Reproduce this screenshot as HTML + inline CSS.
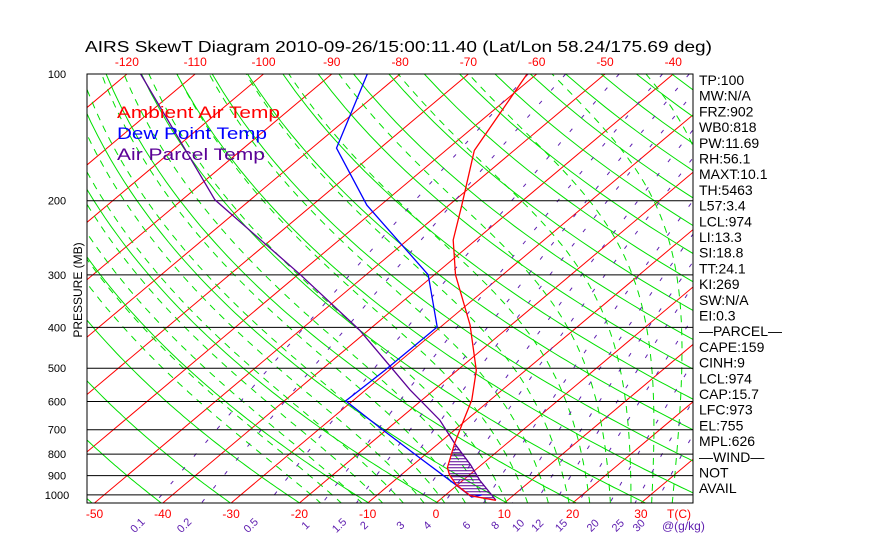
<!DOCTYPE html>
<html><head><meta charset="utf-8">
<style>
body{margin:0;background:#fff;width:870px;height:560px;overflow:hidden}
svg{display:block;font-family:"Liberation Sans",sans-serif}
</style></head>
<body>
<svg id="c" width="870" height="560" viewBox="0 0 870 560">
<text x="85" y="52" font-size="16" fill="#000" textLength="627" lengthAdjust="spacingAndGlyphs">AIRS SkewT Diagram 2010-09-26/15:00:11.40 (Lat/Lon 58.24/175.69 deg)</text>
<text x="0" y="0" transform="translate(82,290) rotate(-90)" text-anchor="middle" font-size="12">PRESSURE (MB)</text>
<defs><clipPath id="pc"><rect x="87" y="74" width="606" height="429"/></clipPath></defs>
<g id="grid" clip-path="url(#pc)"></g>
<g id="prof" clip-path="url(#pc)"></g>
<rect x="87" y="74" width="606" height="429" fill="none" stroke="#000" stroke-width="1"/>
<g id="labels"></g>
<g font-size="17">
<text x="117" y="118" fill="#ff0000" textLength="163" lengthAdjust="spacingAndGlyphs">Ambient Air Temp</text>
<text x="117" y="139" fill="#0000ff" textLength="150" lengthAdjust="spacingAndGlyphs">Dew Point Temp</text>
<text x="117" y="160" fill="#5a0096" textLength="148" lengthAdjust="spacingAndGlyphs">Air Parcel Temp</text>
</g>
<g id="side" font-size="14"></g>
</svg>
<script>
const pressureLevels=[100,200,300,400,500,600,700,800,900,1000];
const topTempTicks=[-120,-110,-100,-90,-80,-70,-60,-50,-40];
const bottomTempTicks=[-50,-40,-30,-20,-10,0,10,20,30];
const mixRatios=[0.1,0.2,0.5,1,1.5,2,3,4,6,8,10,12,15,20,25,30];
const mixLabels=["0.1","0.2","0.5","1","1.5","2","3","4","6","8","10","12","15","20","25","30"];
const tempP=[100,152,205,248,300,395,506,595,664,753,861,897,948,1005,1030];
const tempT=[-61.4,-55.8,-48.1,-43.3,-36.9,-26.0,-17.2,-12.7,-10.4,-7.7,-4.5,-2.9,-0.1,3.8,8.3];
const dewP=[100,150,205,300,399,506,598,701,817,943,1012,1000];
const dewT=[-84.8,-76.4,-62.0,-40.9,-30.5,-30.6,-31.0,-20.5,-10.2,-0.5,4.2,5.3];
const parcelP=[100,199,300,406,563,664,760,848,922,990,1030];
const parcelT=[-118,-85.2,-59.6,-41.3,-23.5,-13.9,-7.3,-1.6,2.4,6.2,8.3];
const sideText=["TP:100","MW:N/A","FRZ:902","WB0:818","PW:11.69","RH:56.1","MAXT:10.1","TH:5463","L57:3.4","LCL:974","LI:13.3","SI:18.8","TT:24.1","KI:269","SW:N/A","EI:0.3","\u2014PARCEL\u2014","CAPE:159","CINH:9","LCL:974","CAP:15.7","LFC:973","EL:755","MPL:626","\u2014WIND\u2014"," NOT","AVAIL"];

const NS="http://www.w3.org/2000/svg";
const Y0=74,K=182.8,XB=436,SC=6.83,SK=1.19,YB=503;
function yP(p){return Y0+K*Math.log(p/100);}
function xT(T,y){return XB+SC*T+(YB-y)*SK;}
function mk(tag,attrs,parent){const e=document.createElementNS(NS,tag);for(const k in attrs)e.setAttribute(k,attrs[k]);parent.appendChild(e);return e;}
const grid=document.getElementById('grid'),prof=document.getElementById('prof'),lab=document.getElementById('labels'),side=document.getElementById('side');
const PS=[];for(let p=100;p<=1060;p+=10)PS.push(p);
function pathPT(arrP,arrT){return arrP.map((p,i)=>{const y=yP(p);return (i?'L':'M')+xT(arrT[i],y).toFixed(1)+' '+y.toFixed(1);}).join(' ');}
for(let T=-160;T<=50;T+=10){
  const e=mk('line',{x1:xT(T,YB),y1:YB,x2:xT(T,Y0),y2:Y0,stroke:'#ff0000','stroke-width':1},grid);
  
  
}
for(let th=180;th<=520;th+=10){
  const T=PS.map(p=>th*Math.pow(p/1000,0.286)-273.15);
  const e=mk('path',{d:pathPT(PS,T),fill:'none',stroke:'#00e000','stroke-width':1},grid);
  
  
}
function es(T){return 6.112*Math.exp(17.67*T/(T+243.5));}
for(let T0=-16;T0<=40;T0+=3){
  let T=T0+273.15;const Tarr=[],Parr=[];
  for(let p=1060;p>=100;p-=5){
    if(p<=1050){Parr.push(p);Tarr.push(T-273.15);}
    const e=es(T-273.15),rs=0.622*e/(p-e),Lv=2.5e6,Rd=287,cp=1004;
    const dTdp=(Rd*T+Lv*rs)/(p*(cp+Lv*Lv*rs*0.622/(Rd*T*T)));
    T-=dTdp*5;
  }
  const e=mk('path',{d:pathPT(Parr,Tarr),fill:'none',stroke:'#00e000','stroke-width':1,'stroke-dasharray':'7,6'},grid);
  
  
}
function tW(w,p){const e=w*p/(622+w);const l=Math.log(e/6.112);return 243.5*l/(17.67-l);}
mixRatios.forEach(w=>{
  const T=PS.map(p=>tW(w,p));
  const e=mk('path',{d:pathPT(PS,T),fill:'none',stroke:'#6020b0','stroke-width':1,'stroke-dasharray':'4,14'},grid);
  
  
});
pressureLevels.forEach(p=>{
  const y=yP(p);
  const l=mk('line',{x1:87,y1:y,x2:693,y2:y,stroke:'#000','stroke-width':1},grid);
  
  
  const t=mk('text',{x:57,y:y+4,'font-size':11,'text-anchor':'middle'},lab);t.textContent=p;
  
  
});
topTempTicks.forEach(T=>{
  const t=mk('text',{x:xT(T,Y0),y:66,'font-size':12,'text-anchor':'middle',fill:'#ff0000'},lab);t.textContent=T;
  
  
});
bottomTempTicks.forEach(T=>{
  const t=mk('text',{x:xT(T,YB),y:518,'font-size':12,'text-anchor':'middle',fill:'#ff0000'},lab);t.textContent=T;
  
  
});
{const t=mk('text',{x:667,y:518,'font-size':12,fill:'#ff0000'},lab);t.textContent='T(C)';

}
{const t=mk('text',{x:662,y:530,'font-size':12,fill:'#6020b0'},lab);t.textContent='@(g/kg)';

}
mixRatios.forEach((w,i)=>{
  const x=xT(tW(w,1050),YB)-15;
  const t=mk('text',{x:0,y:0,'font-size':11,fill:'#6020b0','text-anchor':'middle',transform:`translate(${x.toFixed(1)},528) rotate(-45)`},lab);t.textContent=mixLabels[i];
  
  
});
function interpX(arrP,arrT,y){for(let i=0;i<arrP.length-1;i++){const y1=yP(arrP[i]),y2=yP(arrP[i+1]);if(y>=Math.min(y1,y2)&&y<=Math.max(y1,y2)){const f=(y-y1)/(y2-y1||1);return xT(arrT[i]+f*(arrT[i+1]-arrT[i]),y);}}return null;}
for(let y=yP(760)+2;y<yP(1025);y+=3){
  const a=interpX(tempP,tempT,y),b=interpX(parcelP,parcelT,y);
  if(a!=null&&b!=null&&b>a){const l=mk('line',{x1:a,y1:y,x2:b,y2:y,stroke:'#5a0096','stroke-width':1},prof);
  
  }
}
[[parcelP,parcelT,'#5a0096','parcel-temp-line'],[dewP,dewT,'#0000ff','dew-point-line'],[tempP,tempT,'#ff0000','ambient-temp-line']].forEach(s=>{
  const e=mk('path',{d:pathPT(s[0],s[1]),fill:'none',stroke:s[2],'stroke-width':1.3},prof);
  
  
});
sideText.forEach((s,i)=>{
  const t=mk('text',{x:699,y:85+i*15.7},side);t.textContent=s;
  
  
});
</script>
</body></html>
